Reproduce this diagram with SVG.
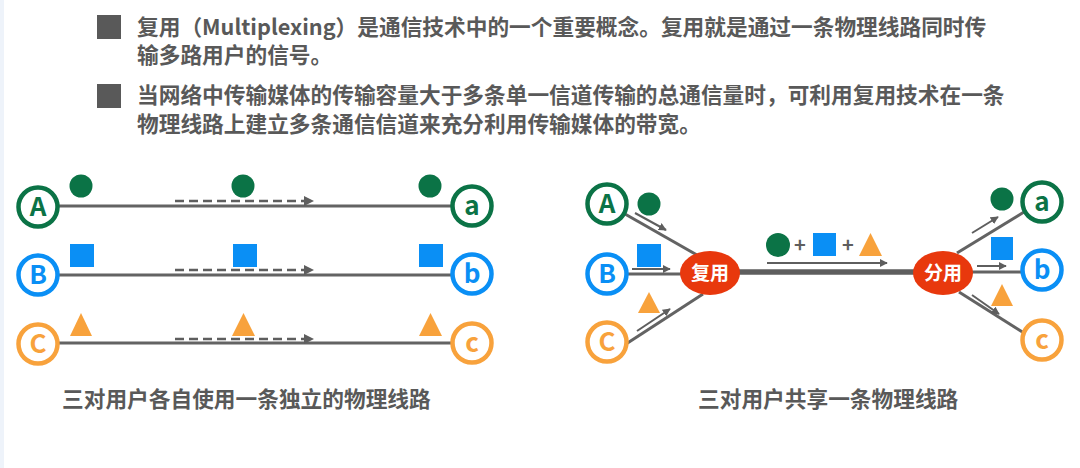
<svg xmlns="http://www.w3.org/2000/svg" width="1080" height="468" viewBox="0 0 1080 468">
<defs>
<style>
.t{font-family:"Noto Sans CJK SC","Noto Sans",sans-serif;font-weight:bold;fill:#595959;font-size:21.7px}
.lbl{font-family:"Noto Sans CJK SC","Noto Sans",sans-serif;font-weight:bold;font-size:26px;text-anchor:middle}
.ell{font-family:"Noto Sans CJK SC",sans-serif;font-weight:bold;font-size:19px;fill:#fff;text-anchor:middle}
.line{stroke:#636363;stroke-width:3;fill:none}
.thick{stroke:#5e5e5e;stroke-width:5.5;fill:none}
.arr{stroke:#5e5e5e;stroke-width:2;fill:none;marker-end:url(#ah)}
.dash{stroke:#5e5e5e;stroke-width:2.5;fill:none;stroke-dasharray:9 5;marker-end:url(#ah)}
.g{fill:#0b7346}
.b{fill:#0a8ff5}
.o{fill:#f8a23c}
.cg{fill:#fff;stroke:#0b7346;stroke-width:4.5}
.cb{fill:#fff;stroke:#0a8ff5;stroke-width:4.5}
.co{fill:#fff;stroke:#f8a23c;stroke-width:4.5}
</style>
<marker id="ah" viewBox="0 0 10 10" refX="9" refY="5" markerWidth="4" markerHeight="4" orient="auto" markerUnits="strokeWidth">
<path d="M0,0 L10,5 L0,10 z" fill="#5e5e5e"/>
</marker>
</defs>
<rect width="1080" height="468" fill="#fff"/>
<rect x="0" y="0" width="4" height="468" fill="#eef3fa"/>

<g id="bullets">
<rect x="97" y="15" width="24" height="24" fill="#595959"/>
<rect x="97" y="84" width="24" height="24" fill="#595959"/>
<text class="t" x="137" y="35">复用（Multiplexing）是通信技术中的一个重要概念。复用就是通过一条物理线路同时传</text>
<text class="t" x="137" y="63">输多路用户的信号。</text>
<text class="t" x="137" y="103">当网络中传输媒体的传输容量大于多条单一信道传输的总通信量时，可利用复用技术在一条</text>
<text class="t" x="137" y="132">物理线路上建立多条通信信道来充分利用传输媒体的带宽。</text>
</g>

<g id="connectors">
<line class="line" x1="58" y1="206" x2="452" y2="206"/>
<line class="line" x1="58" y1="275" x2="452" y2="275"/>
<line class="line" x1="58" y1="343" x2="452" y2="343"/>
<line class="dash" x1="175" y1="201" x2="313" y2="201"/>
<line class="dash" x1="175" y1="270" x2="313" y2="270"/>
<line class="dash" x1="175" y1="339" x2="313" y2="339"/>

<line class="line" x1="625" y1="214" x2="697" y2="255"/>
<line class="line" x1="627" y1="274" x2="682" y2="274"/>
<line class="line" x1="626" y1="344" x2="703" y2="294"/>
<line class="arr" x1="635" y1="213" x2="666" y2="230"/>
<line class="arr" x1="632" y1="269" x2="670" y2="269"/>
<line class="arr" x1="637" y1="331" x2="670" y2="309"/>

<line class="thick" x1="738" y1="272" x2="914" y2="272"/>
<line class="arr" x1="767" y1="263" x2="887" y2="263"/>

<line class="line" x1="957" y1="253" x2="1024" y2="212"/>
<line class="line" x1="970" y1="272" x2="1022" y2="272"/>
<line class="line" x1="959" y1="292" x2="1024" y2="333"/>
<line class="arr" x1="972" y1="233" x2="998" y2="217"/>
<line class="arr" x1="977" y1="266" x2="1006" y2="266"/>
<line class="arr" x1="972" y1="295" x2="999" y2="314"/>
</g>

<g id="left-signals">
<circle class="g" cx="81" cy="186" r="11.5"/>
<circle class="g" cx="243" cy="186" r="11.5"/>
<circle class="g" cx="430" cy="186" r="11.5"/>
<rect class="b" x="70" y="244" width="24" height="23"/>
<rect class="b" x="233" y="244" width="24" height="23"/>
<rect class="b" x="419" y="244" width="24" height="23"/>
<polygon class="o" points="70,336 81,313 92,336"/>
<polygon class="o" points="232,336 243.5,313 255,336"/>
<polygon class="o" points="419,336 430.5,313 442,336"/>
</g>

<g id="node-A-left"><circle class="cg" cx="38" cy="207" r="19.5"/><text class="lbl" x="38" y="216" fill="#0b7346">A</text></g>
<g id="node-B-left"><circle class="cb" cx="38" cy="275" r="19.5"/><text class="lbl" x="38" y="284" fill="#0a8ff5">B</text></g>
<g id="node-C-left"><circle class="co" cx="38" cy="344" r="19.5"/><text class="lbl" x="38" y="353" fill="#f8a23c">C</text></g>
<g id="node-a-left"><circle class="cg" cx="472" cy="206" r="19.5"/><text class="lbl" x="472" y="214.5" fill="#0b7346">a</text></g>
<g id="node-b-left"><circle class="cb" cx="472" cy="274" r="19.5"/><text class="lbl" x="472" y="283" fill="#0a8ff5">b</text></g>
<g id="node-c-left"><circle class="co" cx="472" cy="343" r="19.5"/><text class="lbl" x="472" y="351.5" fill="#f8a23c">c</text></g>

<g id="right-signals">
<circle class="g" cx="649" cy="204" r="11.5"/>
<rect class="b" x="637" y="244" width="24" height="23"/>
<polygon class="o" points="638,313 649,292 660,313"/>
<circle class="g" cx="778" cy="245" r="12"/>
<text x="800" y="252" font-family="Noto Sans CJK SC,sans-serif" font-weight="bold" font-size="20" fill="#5e5e5e" text-anchor="middle">+</text>
<rect class="b" x="813" y="233" width="23" height="23"/>
<text x="848" y="252" font-family="Noto Sans CJK SC,sans-serif" font-weight="bold" font-size="20" fill="#5e5e5e" text-anchor="middle">+</text>
<polygon class="o" points="859,256 870.5,233 882,256"/>
<circle class="g" cx="1002" cy="199" r="11.5"/>
<rect class="b" x="991" y="237" width="22" height="23"/>
<polygon class="o" points="991,306 1002,284 1013,306"/>
</g>

<g id="node-A-right"><circle class="cg" cx="607" cy="204" r="19.5"/><text class="lbl" x="607" y="213" fill="#0b7346">A</text></g>
<g id="node-B-right"><circle class="cb" cx="607" cy="274" r="19.5"/><text class="lbl" x="607" y="283" fill="#0a8ff5">B</text></g>
<g id="node-C-right"><circle class="co" cx="607" cy="342" r="19.5"/><text class="lbl" x="607" y="351" fill="#f8a23c">C</text></g>
<g id="node-mux"><ellipse cx="710" cy="273" rx="30" ry="22" fill="#e8380d"/><text class="ell" x="710" y="280">复用</text></g>
<g id="node-demux"><ellipse cx="943" cy="273" rx="30" ry="22" fill="#e8380d"/><text class="ell" x="943" y="280">分用</text></g>
<g id="node-a-right"><circle class="cg" cx="1042" cy="202" r="19.5"/><text class="lbl" x="1042" y="210.5" fill="#0b7346">a</text></g>
<g id="node-b-right"><circle class="cb" cx="1042" cy="270" r="19.5"/><text class="lbl" x="1042" y="279" fill="#0a8ff5">b</text></g>
<g id="node-c-right"><circle class="co" cx="1042" cy="340" r="19.5"/><text class="lbl" x="1042" y="348.5" fill="#f8a23c">c</text></g>

<g id="captions">
<text class="t" x="62" y="407">三对用户各自使用一条独立的物理线路</text>
<text class="t" x="698" y="407">三对用户共享一条物理线路</text>
</g>
</svg>
